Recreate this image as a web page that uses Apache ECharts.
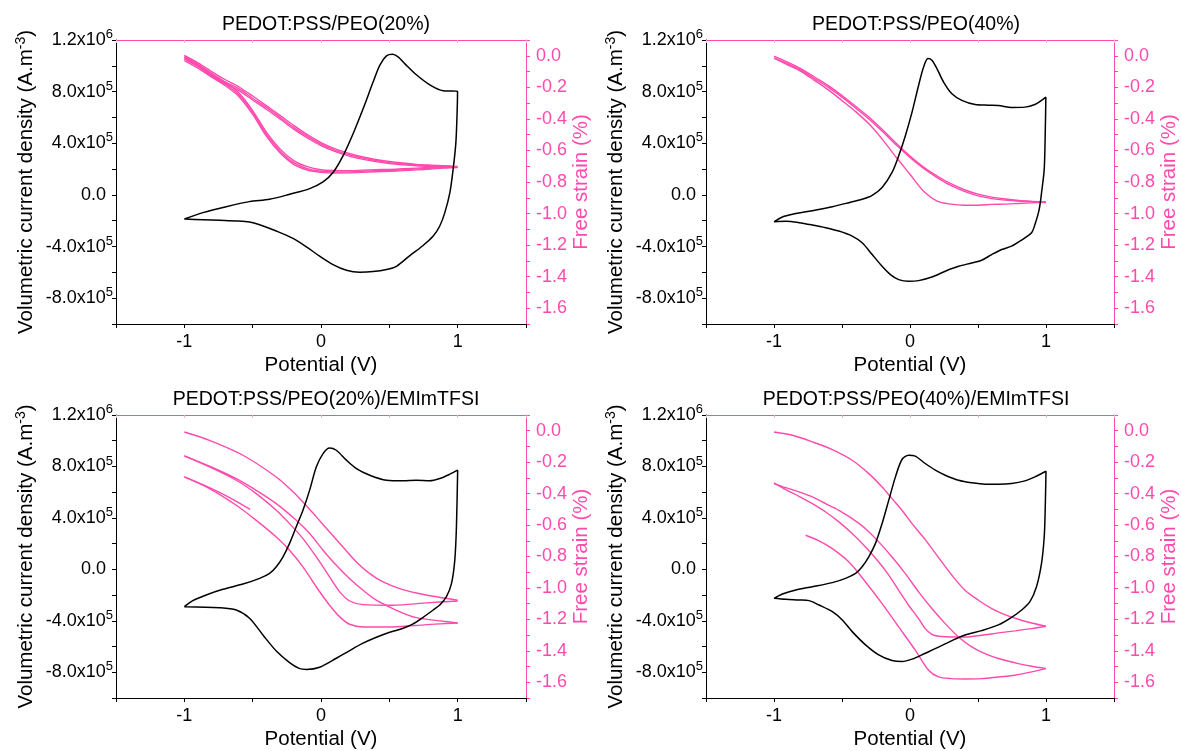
<!DOCTYPE html>
<html><head><meta charset="utf-8">
<script src="https://cdn.jsdelivr.net/npm/echarts@6/dist/echarts.min.js"></script>
<style>html,body{margin:0;padding:0;background:#fff}#c{width:1181px;height:751px}</style>
</head><body><div id="c"></div>
<script>
// ---------- titles & tick labels ----------
const titles = ['PEDOT:PSS/PEO(20%)', 'PEDOT:PSS/PEO(40%)', 'PEDOT:PSS/PEO(20%)/EMImTFSI', 'PEDOT:PSS/PEO(40%)/EMImTFSI'];
const xTickValues = [-1, 0, 1];
const xTickLabels = ['-1', '0', '1'];
const leftTickValues = [-8e5, -4e5, 0, 4e5, 8e5, 1.2e6];
const leftTickMant = ['-8.0x10', '-4.0x10', '0.0', '4.0x10', '8.0x10', '1.2x10'];
const leftTickExp = ['5', '5', '', '5', '5', '6'];
const rightTickValues = [0, -0.2, -0.4, -0.6, -0.8, -1.0, -1.2, -1.4, -1.6];
const rightTickLabels = ['0.0', '-0.2', '-0.4', '-0.6', '-0.8', '-1.0', '-1.2', '-1.4', '-1.6'];

// ---------- panel 1 : PEO 20% ----------
const cv1 = [[-1.0,-1.87e5],[-0.864,-1.37e5],[-0.694,-0.91e5],[-0.523,-0.52e5],[-0.376,-0.34e5],[-0.230,0.05e5],[-0.083,0.49e5],[0.015,1.01e5],[0.088,1.74e5],[0.161,3.03e5],[0.234,4.72e5],[0.308,6.67e5],[0.381,8.74e5],[0.430,1.004e6],[0.479,1.077e6],[0.523,1.089e6],[0.564,1.069e6],[0.613,1.017e6],[0.698,9.31e5],[0.796,8.53e5],[0.894,8.07e5],[0.999,8.02e5],[0.996,6.41e5],[0.987,4.07e5],[0.967,2.0e5],[0.943,0.18e5],[0.906,-1.37e5],[0.869,-2.41e5],[0.821,-3.19e5],[0.747,-3.92e5],[0.650,-4.70e5],[0.552,-5.53e5],[0.479,-5.78e5],[0.381,-5.94e5],[0.283,-5.99e5],[0.186,-5.84e5],[0.088,-5.40e5],[-0.010,-4.75e5],[-0.107,-4.02e5],[-0.205,-3.37e5],[-0.327,-2.80e5],[-0.449,-2.31e5],[-0.523,-2.10e5],[-0.620,-2.02e5],[-0.742,-1.97e5],[-0.864,-1.92e5],[-1.0,-1.87e5]];
const strain1a = [[-1,-0.008],[-0.9,-0.055],[-0.8,-0.114],[-0.7,-0.167],[-0.6,-0.210],[-0.5,-0.269],[-0.4,-0.327],[-0.3,-0.390],[-0.2,-0.454],[-0.1,-0.511],[0,-0.560],[0.1,-0.598],[0.2,-0.626],[0.3,-0.647],[0.4,-0.664],[0.5,-0.677],[0.6,-0.685],[0.7,-0.692],[0.8,-0.696],[0.9,-0.700],[1,-0.705],
  [0.9,-0.707],[0.8,-0.713],[0.7,-0.717],[0.6,-0.722],[0.5,-0.726],[0.4,-0.728],[0.3,-0.732],[0.2,-0.736],[0.1,-0.736],[0,-0.732],[-0.1,-0.715],[-0.2,-0.677],[-0.3,-0.603],[-0.4,-0.497],[-0.5,-0.359],[-0.6,-0.248],[-0.7,-0.180],[-0.8,-0.125],[-0.9,-0.068],[-1,-0.019]];
const strain1b = [[-1,0.002],[-0.9,-0.045],[-0.8,-0.100],[-0.7,-0.152],[-0.6,-0.198],[-0.5,-0.255],[-0.4,-0.316],[-0.3,-0.378],[-0.2,-0.441],[-0.1,-0.500],[0,-0.550],[0.1,-0.589],[0.2,-0.617],[0.3,-0.640],[0.4,-0.657],[0.5,-0.670],[0.6,-0.680],[0.7,-0.688],[0.8,-0.693],[0.9,-0.697],[1,-0.700],
  [0.9,-0.703],[0.8,-0.708],[0.7,-0.712],[0.6,-0.716],[0.5,-0.720],[0.4,-0.722],[0.3,-0.725],[0.2,-0.728],[0.1,-0.727],[0,-0.722],[-0.1,-0.703],[-0.2,-0.664],[-0.3,-0.590],[-0.4,-0.484],[-0.5,-0.347],[-0.6,-0.236],[-0.7,-0.168],[-0.8,-0.113],[-0.9,-0.057],[-1,-0.006]];
const strain1c = [[-1,-0.018],[-0.9,-0.064],[-0.8,-0.124],[-0.7,-0.176],[-0.6,-0.221],[-0.5,-0.280],[-0.4,-0.339],[-0.3,-0.401],[-0.2,-0.465],[-0.1,-0.521],[0,-0.569],[0.1,-0.606],[0.2,-0.634],[0.3,-0.655],[0.4,-0.671],[0.5,-0.683],[0.6,-0.691],[0.7,-0.697],[0.8,-0.701],[0.9,-0.704],[1,-0.708],
  [0.9,-0.712],[0.8,-0.718],[0.7,-0.723],[0.6,-0.728],[0.5,-0.732],[0.4,-0.735],[0.3,-0.739],[0.2,-0.742],[0.1,-0.743],[0,-0.739],[-0.1,-0.724],[-0.2,-0.688],[-0.3,-0.615],[-0.4,-0.509],[-0.5,-0.371],[-0.6,-0.259],[-0.7,-0.190],[-0.8,-0.135],[-0.9,-0.078],[-1,-0.030]];

// ---------- panel 2 : PEO 40% ----------
const cv2 = [[-1.0,-2.08e5],[-0.938,-1.71e5],[-0.864,-1.50e5],[-0.718,-1.22e5],[-0.571,-0.91e5],[-0.449,-0.60e5],[-0.352,-0.34e5],[-0.278,-0.03e5],[-0.205,0.57e5],[-0.132,1.74e5],[-0.083,3.03e5],[-0.034,4.59e5],[0.015,6.41e5],[0.063,8.48e5],[0.100,9.91e5],[0.132,1.056e6],[0.161,1.043e6],[0.198,9.78e5],[0.247,8.74e5],[0.308,7.83e5],[0.381,7.32e5],[0.479,7.00e5],[0.576,6.95e5],[0.650,6.93e5],[0.747,6.77e5],[0.845,6.80e5],[0.918,7.00e5],[0.967,7.32e5],[0.999,7.57e5],[0.994,4.59e5],[0.987,2.0e5],[0.970,0.40e5],[0.950,-1.12e5],[0.920,-2.25e5],[0.894,-2.93e5],[0.845,-3.32e5],[0.796,-3.66e5],[0.747,-3.97e5],[0.674,-4.23e5],[0.601,-4.62e5],[0.527,-5.06e5],[0.454,-5.27e5],[0.357,-5.53e5],[0.259,-5.91e5],[0.161,-6.36e5],[0.063,-6.64e5],[-0.010,-6.69e5],[-0.083,-6.56e5],[-0.144,-6.17e5],[-0.205,-5.53e5],[-0.278,-4.62e5],[-0.352,-3.71e5],[-0.425,-3.19e5],[-0.523,-2.80e5],[-0.620,-2.54e5],[-0.718,-2.33e5],[-0.816,-2.15e5],[-0.913,-2.05e5],[-1.0,-2.08e5]];
const strain2a = [[-1,-0.002],[-0.9,-0.040],[-0.8,-0.083],[-0.7,-0.136],[-0.6,-0.189],[-0.5,-0.252],[-0.4,-0.320],[-0.3,-0.390],[-0.2,-0.471],[-0.1,-0.556],[0,-0.635],[0.1,-0.705],[0.2,-0.762],[0.3,-0.811],[0.4,-0.849],[0.5,-0.877],[0.6,-0.896],[0.7,-0.908],[0.8,-0.917],[0.9,-0.923],[1,-0.928]];
const strain2b = [[1,-0.928],[0.9,-0.932],[0.8,-0.936],[0.7,-0.940],[0.6,-0.942],[0.5,-0.947],[0.4,-0.947],[0.3,-0.940],[0.2,-0.921],[0.1,-0.858],[0,-0.751],[-0.1,-0.645],[-0.2,-0.533],[-0.3,-0.433],[-0.4,-0.354],[-0.5,-0.284],[-0.6,-0.216],[-0.7,-0.157],[-0.8,-0.100],[-0.9,-0.057],[-1,-0.015]];
const strain2c = [[-1,-0.015],[-0.9,-0.050],[-0.8,-0.093],[-0.7,-0.146],[-0.6,-0.200],[-0.5,-0.262],[-0.4,-0.331],[-0.3,-0.402],[-0.2,-0.482],[-0.1,-0.566],[0,-0.645],[0.1,-0.714],[0.2,-0.772],[0.3,-0.822],[0.4,-0.860],[0.5,-0.888],[0.6,-0.905],[0.7,-0.915],[0.8,-0.921],[0.9,-0.926],[1,-0.930]];

// ---------- panel 3 : PEO 20% / EMImTFSI ----------
const cv3 = [[-1.0,-2.90e5],[-0.938,-2.43e5],[-0.840,-1.99e5],[-0.718,-1.55e5],[-0.571,-1.14e5],[-0.449,-0.70e5],[-0.376,-0.31e5],[-0.327,0.21e5],[-0.278,0.98e5],[-0.230,2.02e5],[-0.181,3.31e5],[-0.132,4.60e5],[-0.083,6.16e5],[-0.034,7.97e5],[0.015,9.00e5],[0.063,9.44e5],[0.112,9.26e5],[0.186,8.49e5],[0.259,7.84e5],[0.357,7.32e5],[0.479,6.93e5],[0.601,6.88e5],[0.698,6.93e5],[0.796,6.88e5],[0.869,7.06e5],[0.943,7.40e5],[1.0,7.71e5],[0.991,3.31e5],[0.979,0.72e5],[0.955,-1.09e5],[0.918,-2.12e5],[0.869,-2.77e5],[0.821,-3.16e5],[0.747,-3.73e5],[0.674,-4.24e5],[0.601,-4.58e5],[0.503,-4.89e5],[0.405,-5.28e5],[0.308,-5.74e5],[0.210,-6.31e5],[0.112,-6.91e5],[-0.010,-7.61e5],[-0.107,-7.78e5],[-0.160,-7.70e5],[-0.230,-7.25e5],[-0.327,-6.35e5],[-0.425,-5.10e5],[-0.523,-3.80e5],[-0.620,-3.16e5],[-0.742,-2.98e5],[-1.0,-2.90e5]];
const strain3a = [[-1,-0.008],[-0.816,-0.061],[-0.571,-0.156],[-0.327,-0.294],[-0.230,-0.368],[-0.132,-0.453],[-0.034,-0.548],[0.063,-0.644],[0.161,-0.739],[0.259,-0.835],[0.357,-0.909],[0.454,-0.962],[0.576,-1.004],[0.698,-1.032],[0.821,-1.053],[1.0,-1.078]];
const strain3b = [[1.0,-1.083],[0.772,-1.095],[0.527,-1.110],[0.308,-1.106],[0.210,-1.083],[0.137,-1.025],[0.063,-0.930],[-0.034,-0.803],[-0.132,-0.686],[-0.230,-0.591],[-0.327,-0.506],[-0.474,-0.400],[-0.620,-0.315],[-0.816,-0.230],[-1.0,-0.160]];
const strain3c = [[-1.0,-0.160],[-0.816,-0.226],[-0.620,-0.305],[-0.474,-0.379],[-0.327,-0.464],[-0.181,-0.570],[-0.083,-0.654],[0.015,-0.760],[0.112,-0.856],[0.210,-0.941],[0.308,-1.015],[0.405,-1.078],[0.552,-1.142],[0.698,-1.189],[0.894,-1.212],[1.0,-1.223]];
const strain3d = [[1.0,-1.223],[0.772,-1.233],[0.527,-1.248],[0.308,-1.248],[0.210,-1.231],[0.137,-1.184],[0.063,-1.110],[-0.034,-0.994],[-0.132,-0.866],[-0.230,-0.760],[-0.327,-0.676],[-0.474,-0.570],[-0.620,-0.474],[-0.816,-0.368],[-1.0,-0.294]];
const strain3e = [[-1.0,-0.294],[-0.816,-0.362],[-0.669,-0.425],[-0.518,-0.500]];

// ---------- panel 4 : PEO 40% / EMImTFSI ----------
const cv4 = [[-1.0,-2.25e5],[-0.938,-1.91e5],[-0.840,-1.60e5],[-0.718,-1.35e5],[-0.571,-1.03e5],[-0.474,-0.70e5],[-0.400,-0.31e5],[-0.352,0.21e5],[-0.303,0.98e5],[-0.254,2.02e5],[-0.205,3.57e5],[-0.156,5.38e5],[-0.107,7.19e5],[-0.059,8.54e5],[-0.010,8.87e5],[0.039,8.80e5],[0.112,8.23e5],[0.186,7.71e5],[0.259,7.32e5],[0.357,6.93e5],[0.454,6.73e5],[0.552,6.62e5],[0.650,6.62e5],[0.747,6.67e5],[0.845,6.88e5],[0.918,7.19e5],[0.967,7.45e5],[1.0,7.63e5],[0.994,4.60e5],[0.987,2.54e5],[0.967,0.47e5],[0.930,-1.35e5],[0.882,-2.51e5],[0.821,-3.16e5],[0.747,-3.73e5],[0.650,-4.32e5],[0.527,-4.76e5],[0.405,-5.10e5],[0.308,-5.54e5],[0.210,-6.05e5],[0.112,-6.52e5],[0.015,-6.98e5],[-0.059,-7.17e5],[-0.132,-7.09e5],[-0.230,-6.65e5],[-0.327,-5.87e5],[-0.425,-4.84e5],[-0.498,-3.93e5],[-0.571,-3.29e5],[-0.669,-2.77e5],[-0.742,-2.43e5],[-0.816,-2.38e5],[-0.913,-2.33e5],[-1.0,-2.25e5]];
const strain4a = [[-1,-0.008],[-0.864,-0.029],[-0.718,-0.071],[-0.571,-0.120],[-0.425,-0.188],[-0.303,-0.273],[-0.205,-0.358],[-0.132,-0.432],[-0.059,-0.506],[0.015,-0.591],[0.112,-0.693],[0.210,-0.807],[0.308,-0.919],[0.405,-1.015],[0.503,-1.078],[0.601,-1.131],[0.698,-1.170],[0.796,-1.199],[0.894,-1.223],[1.0,-1.244]];
const strain4b = [[1.0,-1.244],[0.894,-1.259],[0.772,-1.273],[0.650,-1.286],[0.527,-1.301],[0.405,-1.312],[0.308,-1.312],[0.210,-1.307],[0.161,-1.295],[0.112,-1.259],[0.063,-1.195],[-0.010,-1.110],[-0.083,-1.015],[-0.156,-0.919],[-0.230,-0.835],[-0.327,-0.739],[-0.425,-0.654],[-0.523,-0.580],[-0.620,-0.517],[-0.718,-0.464],[-0.816,-0.417],[-0.913,-0.375],[-1.0,-0.332]];
const strain4c = [[-1.0,-0.336],[-0.913,-0.362],[-0.816,-0.389],[-0.718,-0.421],[-0.620,-0.464],[-0.523,-0.506],[-0.425,-0.559],[-0.327,-0.623],[-0.230,-0.707],[-0.132,-0.803],[-0.034,-0.909],[0.063,-1.025],[0.161,-1.131],[0.259,-1.227],[0.357,-1.312],[0.454,-1.375],[0.552,-1.418],[0.650,-1.449],[0.796,-1.481],[0.894,-1.498],[1.0,-1.513]];
const strain4d = [[1.0,-1.513],[0.894,-1.534],[0.772,-1.555],[0.650,-1.566],[0.527,-1.577],[0.405,-1.579],[0.308,-1.577],[0.210,-1.566],[0.137,-1.524],[0.039,-1.396],[-0.083,-1.248],[-0.205,-1.100],[-0.327,-0.962],[-0.449,-0.835],[-0.571,-0.750],[-0.669,-0.701],[-0.767,-0.665]];

const panels = [
  { cv: cv1, strain: [strain1a, strain1b, strain1c] },
  { cv: cv2, strain: [strain2a, strain2b, strain2c] },
  { cv: cv3, strain: [strain3a, strain3b, strain3c, strain3d, strain3e] },
  { cv: cv4, strain: [strain4a, strain4b, strain4c, strain4d] }
];

// ---------- layout & style ----------
const F = '"Liberation Sans", Arial, sans-serif';
const PINK = '#FF4AAD';
const gridLeft = [116, 706, 116, 706];
const gridTop = [40, 40, 415, 415];
const gridW = 410, gridH = 284;

function leftFmt(v) {
  const k = leftTickValues.findIndex(t => Math.abs(t - v) < 1);
  if (k < 0) return '';
  if (!leftTickExp[k]) return '{z|' + leftTickMant[k] + '}';
  return '{n|' + leftTickMant[k] + '}{s|' + leftTickExp[k] + '}';
}
function rightFmt(v) {
  const k = rightTickValues.findIndex(t => Math.abs(t - v) < 1e-6);
  return k < 0 ? '' : rightTickLabels[k];
}
function xFmt(v) {
  const k = xTickValues.findIndex(t => Math.abs(t - v) < 1e-6);
  return k < 0 ? '' : xTickLabels[k];
}

const grid = [], xAxis = [], yAxis = [], series = [], title = [];
panels.forEach((p, i) => {
  grid.push({ left: gridLeft[i], top: gridTop[i], width: gridW, height: gridH, containLabel: false });
  title.push({ text: titles[i], left: gridLeft[i] + gridW / 2, top: gridTop[i] - 30, textAlign: 'center',
    textStyle: { fontSize: 19.5, fontWeight: 'normal', color: '#000', fontFamily: F } });
  xAxis.push({ gridIndex: i, type: 'value', min: -1.5, max: 1.5, interval: 0.5, position: 'bottom',
    axisLine: { show: true, onZero: false, lineStyle: { color: '#000', width: 1 } },
    axisTick: { show: true, inside: false, length: 4, lineStyle: { color: '#000' } },
    axisLabel: { margin: 9, fontSize: 18, color: '#000', fontFamily: F, formatter: xFmt },
    splitLine: { show: false },
    name: 'Potential (V)', nameLocation: 'middle', nameGap: 31,
    nameTextStyle: { fontSize: 20.5, color: '#000', fontFamily: F } });
  xAxis.push({ gridIndex: i, type: 'value', min: -1.5, max: 1.5, interval: 0.5, position: 'top',
    axisLine: { show: true, onZero: false, lineStyle: { color: PINK, width: 1 } },
    axisTick: { show: true, inside: true, length: 3, lineStyle: { color: '#F8B4D6' } },
    axisLabel: { show: false }, splitLine: { show: false } });
  yAxis.push({ gridIndex: i, type: 'value', min: -1e6, max: 1.2e6, interval: 2e5, position: 'left',
    axisLine: { show: true, onZero: false, lineStyle: { color: '#000', width: 1 } },
    axisTick: { show: true, inside: false, length: 4, lineStyle: { color: '#000' } },
    axisLabel: { margin: 3, formatter: leftFmt, color: '#000', fontFamily: F, fontSize: 18,
      rich: { n: { fontSize: 18, fontFamily: F, color: '#000', lineHeight: 24 },
              s: { fontSize: 13, fontFamily: F, color: '#000', verticalAlign: 'top', lineHeight: 13 },
              z: { fontSize: 18, fontFamily: F, color: '#000', lineHeight: 24, padding: [0, 7, 0, 0] } } },
    splitLine: { show: false },
    name: '{a|Volumetric current density (A.m}{b|-3}{a|)}', nameLocation: 'middle', nameGap: 78, nameRotate: 90,
    nameTextStyle: { fontSize: 20.5, color: '#000', fontFamily: F,
      rich: { a: { fontSize: 20.5, fontFamily: F, color: '#000', lineHeight: 24 },
              b: { fontSize: 14, fontFamily: F, color: '#000', verticalAlign: 'top', lineHeight: 14 } } } });
  yAxis.push({ gridIndex: i, type: 'value', min: -1.7, max: 0.1, interval: 0.1, position: 'right',
    axisLine: { show: true, onZero: false, lineStyle: { color: PINK, width: 1 } },
    axisTick: { show: true, inside: false, length: 4, lineStyle: { color: PINK } },
    axisLabel: { margin: 10, fontSize: 18, color: PINK, fontFamily: F, formatter: rightFmt },
    splitLine: { show: false },
    name: 'Free strain (%)', nameLocation: 'middle', nameGap: 45, nameRotate: 90,
    nameTextStyle: { fontSize: 20.5, color: PINK, fontFamily: F } });
  p.strain.forEach(d => series.push({ type: 'line', xAxisIndex: 2 * i, yAxisIndex: 2 * i + 1, data: d,
    showSymbol: false, symbol: 'none', smooth: 0.3, lineStyle: { color: PINK, width: 1.4 }, z: 2 }));
  series.push({ type: 'line', xAxisIndex: 2 * i, yAxisIndex: 2 * i, data: p.cv,
    showSymbol: false, symbol: 'none', smooth: 0.3, lineStyle: { color: '#000', width: 1.5 }, z: 3 });
});

const chart = echarts.init(document.getElementById('c'), null, { renderer: 'canvas' });
chart.setOption({ animation: false, backgroundColor: '#fff', title, grid, xAxis, yAxis, series });
</script></body></html>
